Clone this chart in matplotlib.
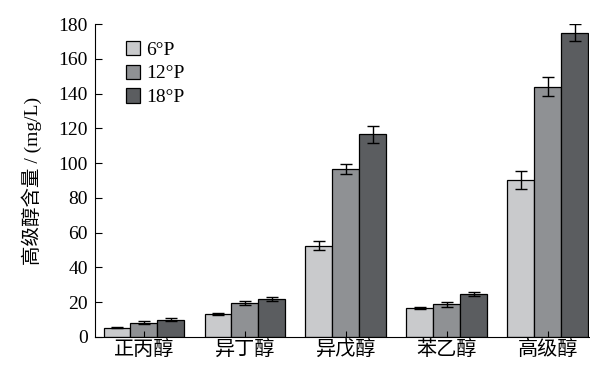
import numpy as np
import matplotlib.pyplot as plt

plt.rcParams['font.family'] = ['Liberation Serif', 'Noto Sans CJK SC']

# higher alcohol content by wort gravity
categories = ['正丙醇', '异丁醇', '异戊醇', '苯乙醇', '高级醇']
series = ['6°P', '12°P', '18°P']
values = [
    [5.3, 13.2, 52.5, 16.7, 90.3],
    [8.2, 19.4, 96.6, 18.8, 143.9],
    [9.8, 21.7, 116.7, 24.7, 175.0],
]
errors = [
    [0.3, 0.7, 2.5, 0.6, 5.0],
    [0.8, 1.0, 3.0, 1.5, 5.5],
    [0.8, 1.0, 4.9, 1.0, 4.8],
]
colors = ['#c9cacc', '#8f9194', '#5b5d60']

fig = plt.figure(figsize=(5.9, 3.65), dpi=100)
ax = fig.add_axes([0.161, 0.077, 0.837, 0.857])

x = np.arange(len(categories))
width = 0.267
for i, name in enumerate(series):
    ax.bar(x + (i - 1) * width, values[i], width, yerr=errors[i],
           color=colors[i], edgecolor='black', linewidth=0.9, label=name,
           error_kw=dict(ecolor='black', elinewidth=1.0, capsize=4, capthick=1.0))

ax.set_xlim(-0.485, len(categories) - 1 + 0.405)
ax.set_ylim(0, 180)
ax.set_yticks(np.arange(0, 181, 20))
ax.set_xticks(x)
ax.set_xticklabels(categories, fontsize=14.5)
ax.tick_params(axis='y', direction='in', length=5, labelsize=14, pad=5)
ax.tick_params(axis='x', direction='in', length=4, pad=3)
ax.spines['top'].set_visible(False)
ax.spines['right'].set_visible(False)
ax.set_ylabel('高级醇含量 / (mg/L)', fontsize=14, labelpad=12)

ax.legend(loc='upper left', bbox_to_anchor=(0.035, 0.99), frameon=False,
          fontsize=14, handlelength=0.75, handleheight=0.75,
          handletextpad=0.3, labelspacing=0.3, borderaxespad=0.3)

fig.savefig('out.png', dpi=100)
